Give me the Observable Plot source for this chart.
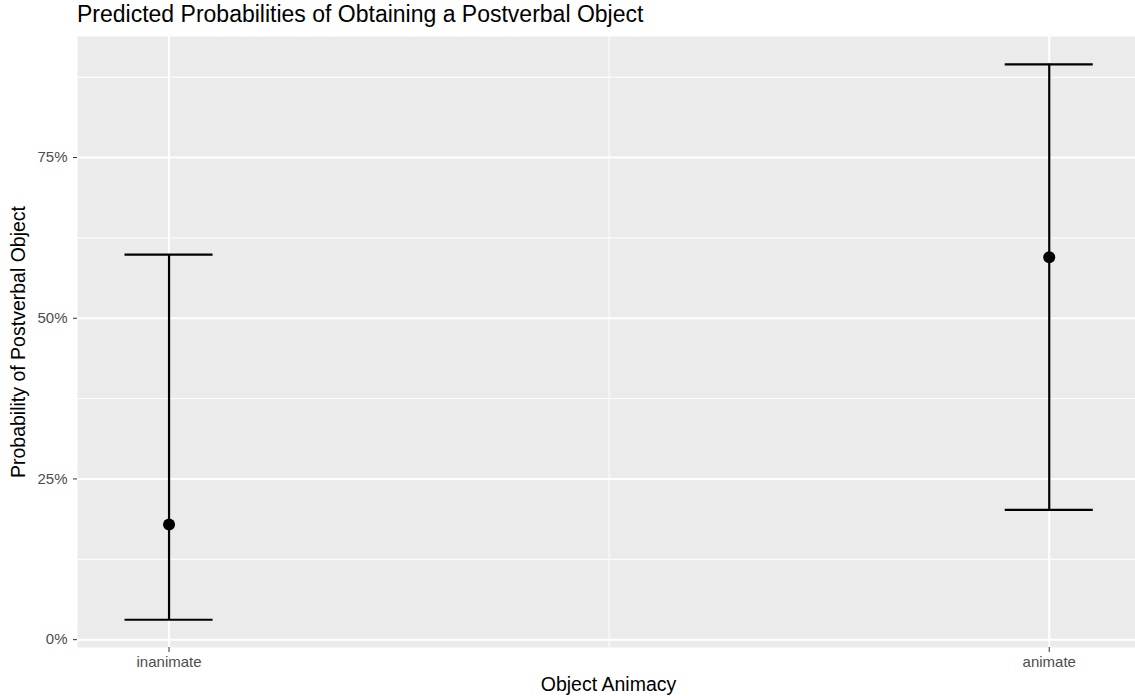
<!DOCTYPE html>
<html>
<head>
<meta charset="utf-8">
<script src="https://cdn.jsdelivr.net/npm/d3@7"></script>
<script src="https://cdn.jsdelivr.net/npm/@observablehq/plot@0.6"></script>
<style>
  html, body { margin: 0; padding: 0; background: #fff; overflow: hidden; }
  #wrap { position: relative; width: 1135px; height: 696px; font-family: "Liberation Sans", Arial, Helvetica, sans-serif; }
  #title { position: absolute; left: 77px; top: 1px; font-size: 23px; color: #000; white-space: nowrap; }
  #xlab { position: absolute; left: 77px; width: 1063px; top: 673px; text-align: center; font-size: 19.5px; color: #000; white-space: nowrap; }
  #ylab { position: absolute; left: 18px; top: 341.5px; transform: translate(-50%, -50%) rotate(-90deg); font-size: 19.5px; color: #000; white-space: nowrap; }
  #chart { position: absolute; left: 0; top: 0; }
</style>
</head>
<body>
<div id="wrap">
  <div id="chart"></div>
  <div id="title">Predicted Probabilities of Obtaining a Postverbal Object</div>
  <div id="ylab">Probability of Postverbal Object</div>
  <div id="xlab">Object Animacy</div>
</div>
<script>
const categories = ["inanimate", "animate"];
const estimates = [0.179, 0.595];
const lowerCI = [0.031, 0.202];
const upperCI = [0.599, 0.895];
const yTicks = [0, 0.25, 0.5, 0.75];
const yMinorTicks = [0.125, 0.375, 0.625, 0.875];
const xMinorTicks = [1.5];

const data = categories.map((c, i) => ({
  cat: c, pos: i + 1, est: estimates[i], lo: lowerCI[i], hi: upperCI[i]
}));
const capHalf = 0.05;

const chart = Plot.plot({
  width: 1135,
  height: 696,
  marginTop: 36,
  marginBottom: 49,
  marginLeft: 77,
  marginRight: 0,
  style: { fontFamily: "'Liberation Sans', Arial, Helvetica, sans-serif", background: "transparent" },
  x: { domain: [0.896, 2.098], label: null },
  y: { domain: [-0.0122, 0.9383], label: null },
  marks: [
    Plot.frame({ fill: "#EBEBEB", stroke: null }),
    Plot.gridY(yMinorTicks, { stroke: "#fff", strokeOpacity: 1, strokeWidth: 1 }),
    Plot.gridX(xMinorTicks, { stroke: "#fff", strokeOpacity: 1, strokeWidth: 1 }),
    Plot.gridY(yTicks, { stroke: "#fff", strokeOpacity: 1, strokeWidth: 2 }),
    Plot.gridX(data.map(d => d.pos), { stroke: "#fff", strokeOpacity: 1, strokeWidth: 2 }),
    Plot.axisY(yTicks, {
      tickFormat: d => Math.round(d * 100) + "%",
      tickSize: 4, tickPadding: 6, fontSize: 15, color: "#4D4D4D", stroke: "#333", label: null
    }),
    Plot.axisX(data.map(d => d.pos), {
      tickFormat: d => categories[d - 1],
      tickSize: 5, tickPadding: 4, fontSize: 15, color: "#4D4D4D", stroke: "#333", label: null
    }),
    Plot.ruleX(data, { x: "pos", y1: "lo", y2: "hi", stroke: "#000", strokeWidth: 2.2 }),
    Plot.ruleY(data, { y: "lo", x1: d => d.pos - capHalf, x2: d => d.pos + capHalf, stroke: "#000", strokeWidth: 2.2 }),
    Plot.ruleY(data, { y: "hi", x1: d => d.pos - capHalf, x2: d => d.pos + capHalf, stroke: "#000", strokeWidth: 2.2 }),
    Plot.dot(data, { x: "pos", y: "est", r: 6, fill: "#000", stroke: null })
  ]
});
document.getElementById("chart").appendChild(chart);
</script>
</body>
</html>
